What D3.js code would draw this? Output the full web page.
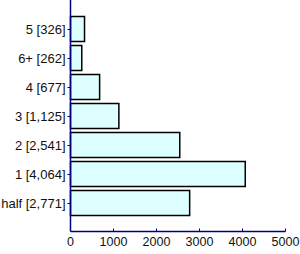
<!DOCTYPE html>
<html><head><meta charset="utf-8">
<script src="https://cdn.jsdelivr.net/npm/d3@7"></script>
<style>body{margin:0;background:#fff}svg{display:block}</style>
</head><body>
<script>
const categories = ["5 [326]", "6+ [262]", "4 [677]", "3 [1,125]", "2 [2,541]", "1 [4,064]", "half [2,771]"];
const values = [326, 262, 677, 1125, 2541, 4064, 2771];
const xTicks = [0, 1000, 2000, 3000, 4000, 5000];

(function () {
const W = 300, H = 254;
const mLeft = 70.5, mRight = 285.5, mTop = 0, mBottom = 231.5;
const svg = d3.select("body").append("svg").attr("width", W).attr("height", H);

const x = d3.scaleLinear().domain([0, 5000]).range([mLeft, mRight]);
const y = d3.scalePoint().domain(categories).range([mTop, mBottom]).padding(1);
const bh = 25;

svg.selectAll("rect.bar").data(values).enter().append("rect")
  .attr("x", x(0))
  .attr("y", (d, i) => Math.round(y(categories[i]) - bh / 2) + 0.5)
  .attr("width", d => x(d) - x(0))
  .attr("height", bh)
  .attr("fill", "#ddffff")
  .attr("stroke", "#000")
  .attr("stroke-width", 1.5);

const font = "'Liberation Sans', Arial, sans-serif";
const axisColor = "#000080";

svg.append("line").attr("x1", mLeft).attr("x2", mLeft).attr("y1", mTop).attr("y2", mBottom)
  .attr("stroke", axisColor).attr("stroke-width", 1.5);
const yg = svg.append("g");
categories.forEach(c => {
  const yy = Math.round(y(c)) + 0.5;
  yg.append("line").attr("x1", mLeft - 3).attr("x2", mLeft).attr("y1", yy).attr("y2", yy)
    .attr("stroke", axisColor);
  yg.append("text").attr("x", mLeft - 5).attr("y", yy).attr("dy", "0.36em")
    .attr("text-anchor", "end").attr("font-family", font).attr("font-size", 13)
    .attr("fill", "#111").text(c);
});

svg.append("line").attr("x1", mLeft).attr("x2", mRight).attr("y1", mBottom).attr("y2", mBottom)
  .attr("stroke", axisColor).attr("stroke-width", 1.5);
xTicks.forEach(t => {
  const xx = x(t);
  svg.append("line").attr("x1", xx).attr("x2", xx).attr("y1", mBottom - 3).attr("y2", mBottom)
    .attr("stroke", axisColor);
  svg.append("text").attr("x", xx).attr("y", 246).attr("text-anchor", "middle")
    .attr("font-family", font).attr("font-size", 12.5).attr("fill", "#111").text(t);
});
})();
</script>
</body></html>
